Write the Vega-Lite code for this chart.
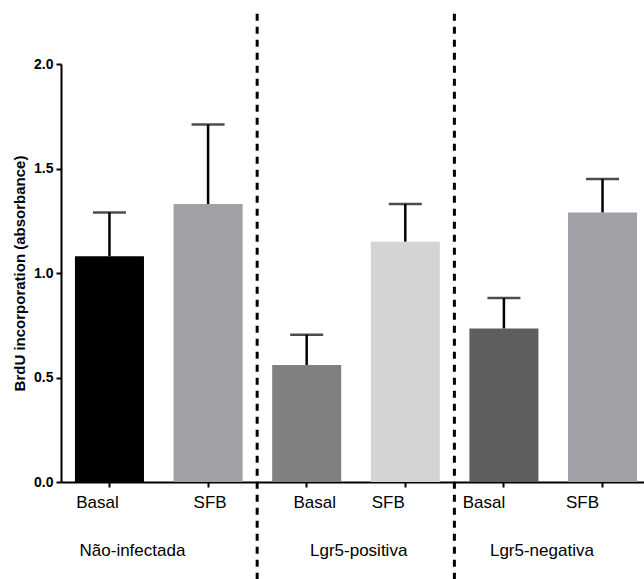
{
  "$schema": "https://vega.github.io/schema/vega-lite/v6.json",
  "width": 583,
  "height": 418,
  "autosize": {"type": "none"},
  "padding": {"left": 61, "top": 64, "right": 0, "bottom": 97},
  "background": "white",
  "config": {
    "view": {"stroke": null},
    "font": "Liberation Sans",
    "axis": {"grid": false, "domainColor": "black", "tickColor": "black", "labelColor": "black", "titleColor": "black"}
  },
  "data": {
    "values": [
      {"grupo": "Não-infectada", "trat": "Basal", "amostra": "Não-infectada · Basal", "media": 1.08, "sup": 1.29},
      {"grupo": "Não-infectada", "trat": "SFB", "amostra": "Não-infectada · SFB", "media": 1.33, "sup": 1.71},
      {"grupo": "Lgr5-positiva", "trat": "Basal", "amostra": "Lgr5-positiva · Basal", "media": 0.56, "sup": 0.705},
      {"grupo": "Lgr5-positiva", "trat": "SFB", "amostra": "Lgr5-positiva · SFB", "media": 1.15, "sup": 1.33},
      {"grupo": "Lgr5-negativa", "trat": "Basal", "amostra": "Lgr5-negativa · Basal", "media": 0.735, "sup": 0.88},
      {"grupo": "Lgr5-negativa", "trat": "SFB", "amostra": "Lgr5-negativa · SFB", "media": 1.29, "sup": 1.45}
    ]
  },
  "resolve": {"axis": {"x": "independent"}},
  "layer": [
    {
      "mark": {"type": "bar"},
      "encoding": {
        "x": {
          "field": "amostra",
          "type": "nominal",
          "sort": null,
          "scale": {"paddingInner": 0.3, "paddingOuter": 0.106, "align": 0.667},
          "axis": {
            "orient": "bottom",
            "title": null,
            "labelAngle": 0,
            "labelExpr": "split(datum.value, ' · ')[1]",
            "labelFontSize": 17,
            "labelPadding": 7,
            "tickSize": 5,
            "tickWidth": 2,
            "domainWidth": 2,
            "labelOffset": {
              "condition": [
                {"test": "datum.value === 'Não-infectada · Basal'", "value": -12},
                {"test": "datum.value === 'Não-infectada · SFB'", "value": 2},
                {"test": "datum.value === 'Lgr5-positiva · Basal'", "value": 8},
                {"test": "datum.value === 'Lgr5-positiva · SFB'", "value": -17},
                {"test": "datum.value === 'Lgr5-negativa · Basal'", "value": -20}
              ],
              "value": -20
            }
          }
        },
        "y": {
          "field": "media",
          "type": "quantitative",
          "scale": {"domain": [0, 2], "nice": false, "zero": true},
          "axis": {
            "title": "BrdU incorporation (absorbance)",
            "titleFontSize": 15,
            "titleFontWeight": "bold",
            "titlePadding": 6,
            "values": [0, 0.5, 1, 1.5, 2],
            "format": ".1f",
            "labelFontSize": 14,
            "labelFontWeight": "bold",
            "labelPadding": 3,
            "tickSize": 5,
            "tickWidth": 2,
            "domainWidth": 2
          }
        },
        "color": {
          "field": "amostra",
          "type": "nominal",
          "legend": null,
          "scale": {
            "domain": ["Não-infectada · Basal", "Não-infectada · SFB", "Lgr5-positiva · Basal", "Lgr5-positiva · SFB", "Lgr5-negativa · Basal", "Lgr5-negativa · SFB"],
            "range": ["#000000", "#a0a0a6", "#808080", "#d4d4d4", "#5e5e5e", "#a0a0a6"]
          }
        }
      }
    },
    {
      "mark": {"type": "rule", "color": "black", "strokeWidth": 2.5},
      "encoding": {
        "x": {
          "field": "amostra",
          "type": "nominal",
          "sort": null,
          "axis": {
            "orient": "bottom",
            "title": null,
            "domain": false,
            "ticks": false,
            "labelAngle": 0,
            "labelFontSize": 17,
            "labelPadding": 60,
            "labelExpr": "split(datum.value, ' · ')[1] === 'Basal' ? split(datum.value, ' · ')[0] : ''",
            "labelOffset": {
              "condition": [
                {"test": "datum.value === 'Não-infectada · Basal'", "value": 23},
                {"test": "datum.value === 'Lgr5-positiva · Basal'", "value": 52}
              ],
              "value": 38
            }
          }
        },
        "y": {"field": "media", "type": "quantitative"},
        "y2": {"field": "sup"}
      }
    },
    {
      "mark": {"type": "tick", "color": "black", "size": 33, "thickness": 2.5, "orient": "horizontal"},
      "encoding": {
        "x": {"field": "amostra", "type": "nominal", "sort": null, "axis": null},
        "y": {"field": "sup", "type": "quantitative"}
      }
    },
    {
      "transform": [{"filter": "datum.trat === 'Basal' && datum.grupo !== 'Não-infectada'"}],
      "mark": {"type": "rule", "color": "black", "strokeWidth": 3, "strokeDash": [7, 6], "xOffset": -15},
      "encoding": {
        "x": {"field": "amostra", "type": "nominal", "sort": null, "bandPosition": 0, "axis": null},
        "y": {"datum": 2.24},
        "y2": {"datum": -0.48}
      }
    }
  ]
}
